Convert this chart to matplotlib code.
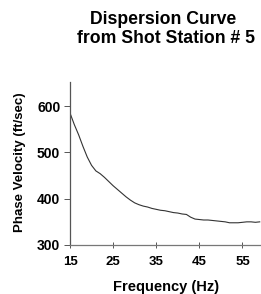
import matplotlib
matplotlib.use('Agg')
import matplotlib.pyplot as plt

# Dispersion curve
frequency = [15, 16, 17, 18, 19, 20, 21, 22, 23, 24, 25, 26, 27, 28, 29, 30,
             31, 32, 33, 34, 35, 36, 37, 38, 39, 40, 41, 42, 43, 44, 45, 46,
             47, 48, 49, 50, 51, 52, 53, 54, 55, 56, 57, 58, 59]
phase_velocity = [585, 560, 538, 513, 490, 472, 460, 454, 446, 437, 428, 420,
                  412, 404, 397, 391, 387, 384, 382, 379, 377, 375, 374, 372,
                  370, 369, 367, 366, 360, 356, 355, 354, 354, 353, 352, 351,
                  350, 348, 348, 348, 349, 350, 350, 349, 350]
x_ticks = [15, 25, 35, 45, 55]
y_ticks = [300, 400, 500, 600]

plt.rcParams['font.family'] = ['Liberation Sans', 'DejaVu Sans']
plt.rcParams['font.weight'] = 'bold'

W, H = 261, 294
fig = plt.figure(figsize=(W / 100, H / 100), dpi=100)
ax = fig.add_axes([70 / W, (H - 245) / H, 1 - 70 / W, (245 - 82) / H])

ax.plot(frequency, phase_velocity, color='#333333', lw=0.8)

ax.set_xlim(15, 59.3)
ax.set_ylim(300, 652)
ax.set_xticks(x_ticks)
ax.set_yticks(y_ticks)

for side in ['top', 'right']:
    ax.spines[side].set_visible(False)
ax.spines['left'].set_color('#555555')
ax.spines['bottom'].set_color('#777777')
for side in ['left', 'bottom']:
    ax.spines[side].set_linewidth(0.9)

ax.tick_params(axis='x', direction='inout', length=4, width=0.7, color='#555555',
               labelsize=9.5, pad=6)
ax.tick_params(axis='y', direction='out', length=4, width=0.7, color='#555555',
               labelsize=10, pad=3)
for lab in ax.get_xticklabels() + ax.get_yticklabels():
    lab.set_fontweight('bold')

fig.text(163 / W, 1 - 20 / H, 'Dispersion Curve', ha='center', va='center',
         fontsize=12.7, fontweight='bold')
fig.text(166 / W, 1 - 38.5 / H, 'from Shot Station # 5', ha='center', va='center',
         fontsize=12.7, fontweight='bold')
fig.text(166 / W, 1 - 287 / H, 'Frequency (Hz)', ha='center', va='center',
         fontsize=10.5, fontweight='bold')
fig.text(20 / W, 1 - 162 / H, 'Phase Velocity (ft/sec)', ha='center', va='center',
         rotation=90, fontsize=9.5, fontweight='bold')

fig.savefig('out.png', dpi=100)
